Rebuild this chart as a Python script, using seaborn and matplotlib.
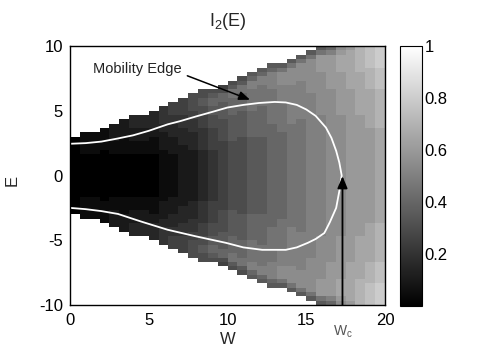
import numpy as np
import pandas as pd
import matplotlib
matplotlib.use("Agg")
import matplotlib.pyplot as plt
import seaborn as sns

sns.set_theme(style="white")
plt.rcParams["font.family"] = ["Liberation Sans", "DejaVu Sans"]
plt.rcParams["mathtext.fontset"] = "custom"
plt.rcParams["mathtext.rm"] = "Liberation Sans"
plt.rcParams["mathtext.it"] = "Liberation Sans"
plt.rcParams["mathtext.default"] = "regular"

# ---- data -------------------------------------------------------------
# W columns (cell centres), 0..20 in 32 cells; E rows 0..10 in 30 cells (mirrored for E<0)
W_centres = [0.3125 + 0.625 * i for i in range(32)]
E_half = [1 / 6 + i / 3 for i in range(30)]          # row centres for E >= 0
# grey level code: letter index / 20 ; string index = row upward from E=0 ; missing = outside band
LEVELS = "abcdefghijklmnopqrstu"
cols_upper = [
    "aaaaaaaaa",
    "aaaaabbbbb",
    "aaaaabbbbb",
    "aaaaaabbbbb",
    "aaaaabbbcccc",
    "aaaaabbbbcccc",
    "aaaaabbbcccddd",
    "aaaaabbbcccddd",
    "aaaaabbbbccdddd",
    "bbbbbbccccddeeee",
    "bbbbbccccdddeefff",
    "cccccccddddeeeffff",
    "ccccccddddeeeffgggg",
    "ddddddeeeeefffgghhgg",
    "eeeeeefffffggghhiihg",
    "ffffffffggggghhhhiigf",
    "gggggggghhhhhhiiiijjhg",
    "ggggggggghhhhhhiiiijjhg",
    "hhhhhhhhhiiiiiijjjjjkkih",
    "hhhhhhhhhiiiiiiijjjjjkkih",
    "iiiiiiiiiiiijjjjjjjjkkkkih",
    "iiiiiiiiiijjjjjjjkkkkllljh",
    "jjjjjjjjjjjjkkkkkkkkklllljh",
    "jjjjjjjjjjjjjkkkkkkkkklllljh",
    "kkkkkkkkkkkkkkkkkkklllllllljh",
    "kkkkkkkkkkkkkkllllllllllmmmmjh",
    "llllllllllllllllllllmmmmmmmmki",
    "llllllllllllllmmmmmmmmmmnnnnml",
    "mmmmmmmmmmmmmmmmmmmmnnnnnnnnnm",
    "mmmmmmmmmmmmmmnnnnnnnnnnoooooo",
    "mmmmmmmmmmmnnnnnnnnnoooooppppp",
    "nnnnnnnnnnnooooooooopppppqqqqq",
]

# mobility edge (closed curve)
ME_W = [0, 1, 2, 3, 4, 5, 6.2, 7, 8, 9, 10, 11, 12, 13, 13.7, 14.4, 15.0, 15.6,
        16.25, 16.6, 16.9, 17.1, 17.25,
        17.1, 16.9, 16.5, 16.15, 15.6, 15.1, 14.4, 13.7, 12.2, 11, 9.9, 8, 6.2,
        4.5, 3.05, 2, 1, 0]
ME_E = [2.45, 2.5, 2.62, 2.85, 3.1, 3.45, 3.95, 4.2, 4.56, 4.9, 5.25, 5.45, 5.6,
        5.68, 5.64, 5.45, 5.1, 4.6, 3.7, 2.9, 1.9, 1.0, 0.0,
        -1.2, -2.5, -3.6, -4.44, -4.9, -5.2, -5.55, -5.74, -5.74, -5.55, -5.2,
        -4.7, -4.19, -3.55, -2.97, -2.75, -2.6, -2.5]

W_c = 17.3
x_ticks = [0, 5, 10, 15, 20]
y_ticks = [-10, -5, 0, 5, 10]
cbar_ticks = [0.2, 0.4, 0.6, 0.8, 1]
cbar_labels = ["0.2", "0.4", "0.6", "0.8", "1"]

# ---- build table -----------------------------------------------------
def decode(s):
    vals = [LEVELS.index(ch) / 20 for ch in s[:30]]
    return vals + [np.nan] * (30 - len(vals))

upper = np.array([decode(s) for s in cols_upper]).T          # (30 rows up from 0, 32 cols)
grid = np.vstack([upper[::-1], upper])                        # top row = highest E
E_index = [round(e, 3) for e in E_half[::-1]] + [round(-e, 3) for e in E_half]
df = pd.DataFrame(grid, index=E_index, columns=[round(w, 3) for w in W_centres])

# ---- figure ----------------------------------------------------------
fig = plt.figure(figsize=(4.85, 3.63), dpi=100)
rect = [70 / 485, 1 - 305 / 363, 315 / 485, 259 / 363]
ax = fig.add_axes(rect)
cax = fig.add_axes([400 / 485, 1 - 306 / 363, 22 / 485, 260 / 363])

sns.heatmap(df, ax=ax, cmap="gray", vmin=0, vmax=1, cbar_ax=cax,
            xticklabels=False, yticklabels=False, linewidths=0)
ax.set_facecolor("white")
ax.set_xlabel("")
ax.set_ylabel("")
for s in ax.spines.values():
    s.set_visible(False)

# overlay axes with physical coordinates
ax2 = fig.add_axes(rect, facecolor="none")
ax2.set_xlim(0, 20)
ax2.set_ylim(-10, 10)
ax2.plot(ME_W, ME_E, color="white", lw=1.3, solid_joinstyle="round")
ax2.set_xticks(x_ticks)
ax2.set_xticklabels([str(t) for t in x_ticks])
ax2.set_yticks(y_ticks)
ax2.set_yticklabels([str(t) for t in y_ticks])
ax2.tick_params(axis="both", length=0, labelsize=12, colors="black")
ax2.tick_params(axis="x", pad=6)
ax2.tick_params(axis="y", pad=5)
for s in ax2.spines.values():
    s.set_visible(True)
    s.set_color("black")
    s.set_linewidth(1.0)

# annotations
ax2.text(1.45, 8.25, "Mobility Edge", fontsize=10.5, color="#222222", va="center", ha="left")
ax2.annotate("", xy=(11.43, 5.85), xytext=(7.45, 7.7),
             arrowprops=dict(arrowstyle="-|>,head_length=0.55,head_width=0.22",
                             color="black", lw=1.1, mutation_scale=12,
                             shrinkA=0, shrinkB=0))
ax2.annotate("", xy=(W_c, -0.05), xytext=(W_c, -10),
             arrowprops=dict(arrowstyle="-|>,head_length=0.6,head_width=0.25",
                             color="black", lw=1.3, mutation_scale=12,
                             shrinkA=0, shrinkB=0))
ax2.annotate(r"W$_\mathregular{c}$", xy=(W_c, -10), xytext=(0, -19),
             textcoords="offset points", ha="center", va="center",
             fontsize=10, color="#555555", annotation_clip=False)

# labels / title
fig.text(227.5 / 485, 1 - 339 / 363, "W", ha="center", va="center", fontsize=12)
fig.text(12 / 485, 1 - 180 / 363, "E", ha="center", va="center", fontsize=12, rotation=90)
fig.text(227.5 / 485, 1 - 26 / 363, r"I$_2$(E)", ha="center", va="baseline", fontsize=13)

# colorbar
cbar = ax.collections[0].colorbar
cbar.set_ticks(cbar_ticks)
cbar.set_ticklabels(cbar_labels)
cax.tick_params(labelsize=12, direction="in", length=3, width=0.6,
                left=True, right=True, pad=2, colors="black")
cbar.outline.set_visible(True)
cbar.outline.set_edgecolor("black")
cbar.outline.set_linewidth(0.8)

fig.savefig("out.png", dpi=100)
